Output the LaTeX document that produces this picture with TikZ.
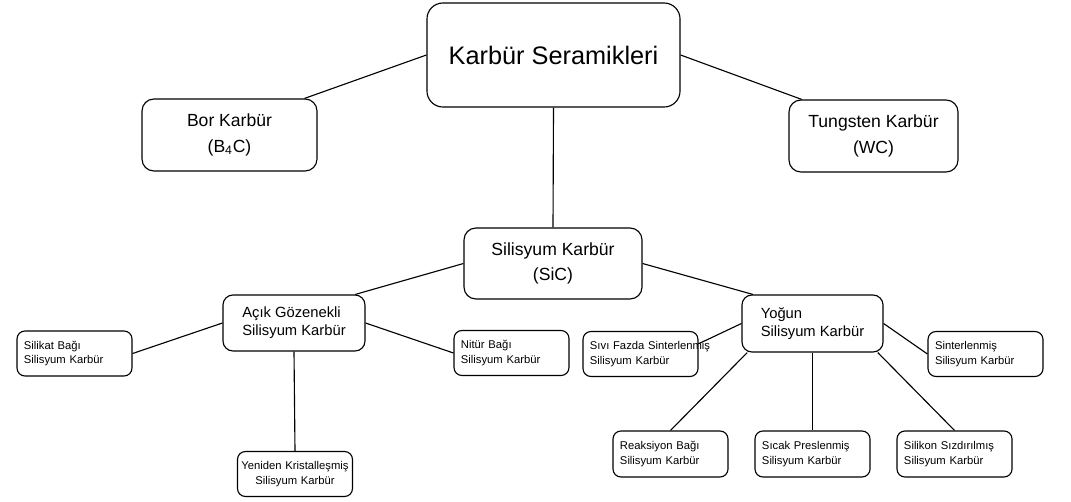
\documentclass[tikz,border=0pt]{standalone}
\usepackage{fontspec}
\setmainfont{Liberation Sans}

\begin{document}
\begin{tikzpicture}[x=0.025cm, y=-0.025cm, line width=0.8pt,
	box/.style={draw, rectangle, inner sep=0pt},
	topbox/.style={box, rounded corners=0.4cm, font=\fontsize{18}{22}\selectfont},
	bigbox/.style={box, rounded corners=0.3cm, align=center, font=\fontsize{12.5}{18}\selectfont},
	midbox/.style={box, rounded corners=0.25cm, align=left, font=\fontsize{10.5}{13}\selectfont},
	smallbox/.style={box, rounded corners=0.2cm, minimum width=2.875cm, minimum height=1.125cm,
		inner xsep=0.175cm, text width=2.525cm, align=left, font=\fontsize{8}{10.5}\selectfont}]

	\useasboundingbox (0,0) rectangle (1071,501);

	\node[topbox, minimum width=6.325cm, minimum height=2.6cm] (karbur) at (553.5,55) {Karbür Seramikleri};
	\node[bigbox, minimum width=4.375cm, minimum height=1.8cm] (bor) at (229.5,135) {Bor Karbür\\(B\textsubscript{4}C)};
	\node[bigbox, minimum width=4.225cm, minimum height=1.8cm] (tungsten) at (873.5,136) {Tungsten Karbür\\(WC)};
	\node[bigbox, minimum width=4.45cm, minimum height=1.775cm] (sic) at (553,263.5) {Silisyum Karbür\\(SiC)};

	\node[midbox, minimum width=3.55cm, minimum height=1.4cm] (acik) at (294,323) {Açık Gözenekli\\Silisyum Karbür};
	\node[midbox, minimum width=3.525cm, minimum height=1.425cm] (yogun) at (812.5,323.5) {Yoğun\\Silisyum Karbür};

	\node[smallbox] (silikat) at (74.5,353.5) {Silikat Bağı\\Silisyum Karbür};
	\node[smallbox] (nitur) at (511.5,353) {Nitür Bağı\\Silisyum Karbür};
	\node[smallbox, inner xsep=0.025cm, text width=2.8cm, align=center] (yeniden) at (295,474) {Yeniden Kristalleşmiş\\Silisyum Karbür};

	\node[smallbox] (sivi) at (640.5,354) {\mbox{Sıvı Fazda Sinterlenmiş}\\Silisyum Karbür};
	\node[smallbox] (sinter) at (985.5,354) {Sinterlenmiş\\Silisyum Karbür};
	\node[smallbox, minimum height=1.15cm] (reaksiyon) at (670.5,454) {Reaksiyon Bağı\\Silisyum Karbür};
	\node[smallbox, minimum height=1.15cm] (sicak) at (812.5,454) {Sıcak Preslenmiş\\Silisyum Karbür};
	\node[smallbox, minimum height=1.15cm] (silikon) at (954.5,454) {Silikon Sızdırılmış\\Silisyum Karbür};

	\draw (karbur.west) -- (bor.26);
	\draw (karbur.east) -- (tungsten.153);
	\draw (karbur.south) -- (sic.north);

	\draw (sic.west) -- (acik.25);
	\draw (sic.east) -- (yogun.154);

	\draw (acik.west) -- (silikat.east);
	\draw (acik.east) -- (nitur.west);
	\draw (acik.south) -- (yeniden.north);

	\draw (yogun.west) -- (sivi.10);
	\draw (yogun.east) -- (sinter.west);
	\draw (yogun.204) -- (reaksiyon.north);
	\draw (yogun.south) -- (sicak.north);
	\draw (yogun.336) -- (silikon.north);

\end{tikzpicture}
\end{document}
